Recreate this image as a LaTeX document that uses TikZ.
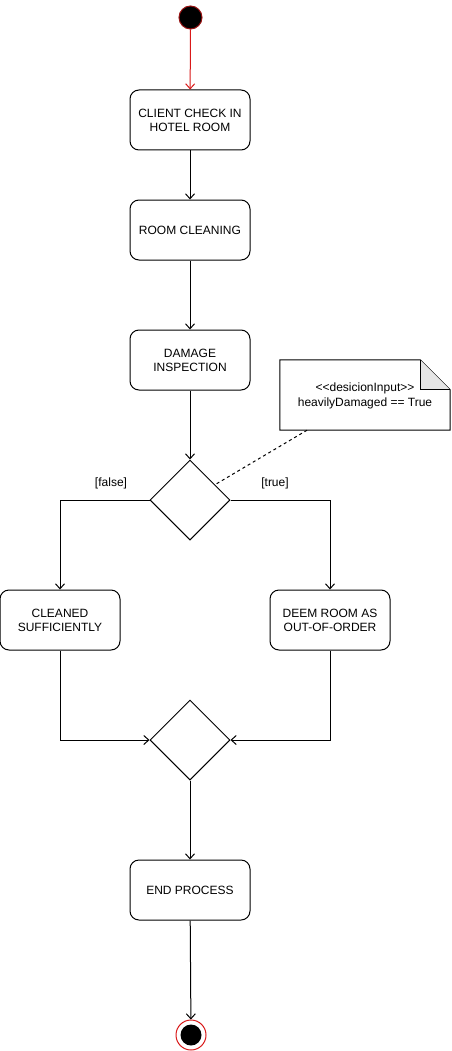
\documentclass[tikz,border=0pt]{standalone}
\usepackage{fontspec}
\setmainfont{Liberation Sans}
\usetikzlibrary{arrows.meta,shapes.geometric,calc}
\definecolor{startred}{rgb}{0.85,0.1,0.1}
\tikzset{
  base/.style={font=\fontsize{12}{14}\selectfont},
  actbox/.style={base,draw=black,fill=white,line width=1pt,rounded corners=9pt,minimum width=120pt,minimum height=60pt,align=center,inner sep=0pt},
  decis/.style={draw=black,fill=white,line width=1pt,shape=diamond,minimum width=80pt,minimum height=80pt,inner sep=0pt},
  flow/.style={line width=1pt,draw=black,-{Straight Barb[length=5pt,width=9pt,line width=1pt]}},
  redflow/.style={line width=1pt,draw=startred,-{Straight Barb[length=5pt,width=9pt,line width=1pt]}},
  lbl/.style={base,inner sep=0pt},
}
\begin{document}
\begin{tikzpicture}[x=1pt,y=-1pt]
\useasboundingbox[fill=white] (0,0) rectangle (451,1051);
% start
\node[circle,fill=black,draw=startred!70!black,line width=1pt,minimum size=23pt,inner sep=0pt] (start) at (190.5,17.5) {};
\node[actbox] (b1) at (190,120) {CLIENT CHECK IN\\HOTEL ROOM};
\node[actbox] (b2) at (190,230) {ROOM CLEANING};
\node[actbox] (b3) at (190,360) {DAMAGE\\INSPECTION};
\node[decis] (d1) at (190,500) {};
\node[actbox] (b4) at (60,620) {CLEANED\\SUFFICIENTLY};
\node[actbox] (b5) at (330,620) {DEEM ROOM AS\\OUT-OF-ORDER};
\node[decis] (d2) at (190,740) {};
\node[actbox] (b6) at (190,890) {END PROCESS};
% end
\node[circle,draw=startred,line width=1pt,fill=white,minimum size=30pt,inner sep=0pt] (finish) at (191,1035) {};
\node[circle,fill=black,minimum size=21pt,inner sep=0pt] (finishin) at (finish.center) {};
% note
\node[base,minimum width=170pt,minimum height=70pt,inner sep=0pt,align=center] (note) at (365,395) {};
\draw[line width=1pt,fill=white] (note.south west) -- (note.north west) -- ([xshift=-30pt]note.north east) -- ([yshift=-30pt]note.north east) -- (note.south east) -- cycle;
\fill[gray!20] ([xshift=-30pt]note.north east) -- ([xshift=-30pt,yshift=-30pt]note.north east) -- ([yshift=-30pt]note.north east) -- cycle;
\draw[line width=1pt] ([xshift=-30pt]note.north east) -- ([xshift=-30pt,yshift=-30pt]note.north east) -- ([yshift=-30pt]note.north east);
\node[base,align=center,inner sep=0pt] (notetext) at ([yshift=-1pt]note.center) {\textless\kern0pt\textless\kern0pt desicionInput\kern0pt\textgreater\kern0pt\textgreater\\[1pt]heavilyDamaged == True};
% connectors
\draw[redflow] (start) -- (b1);
\draw[flow] (b1) -- (b2);
\draw[flow] (b2) -- (b3);
\draw[flow] (b3) -- (d1);
\draw[flow] (d1.west) -| (b4.north);
\draw[flow] (d1.east) -| (b5.north);
\draw[flow] (b4.south) |- (d2.west);
\draw[flow] (b5.south) |- (d2.east);
\draw[flow] (d2) -- (b6);
\draw[flow] (b6) -- (finish);
\coordinate (noteanchor) at ($(note.south west)!0.16!(note.south east)$);
\draw[line width=1pt,dash pattern=on 3pt off 3pt] (noteanchor) -- ($(d1.north)!0.62!(d1.east)$);
% labels
\node[lbl] (lfalse) at (111,483) {[false]};
\node[lbl] (ltrue) at (275,483) {[true]};
\end{tikzpicture}
\end{document}
